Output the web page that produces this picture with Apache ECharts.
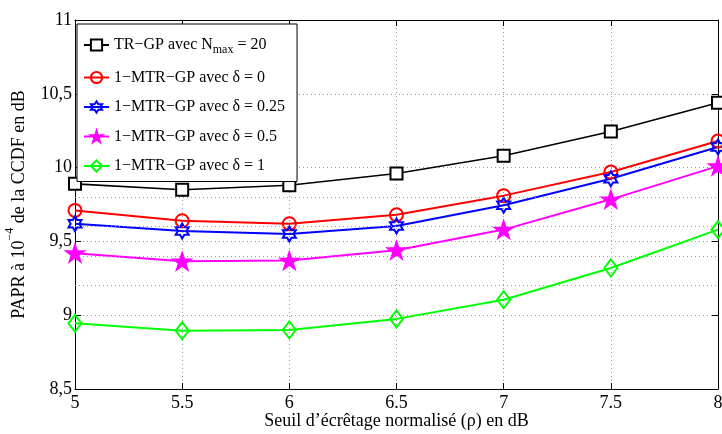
<!DOCTYPE html>
<html>
<head>
<meta charset="utf-8">
<script src="https://cdn.jsdelivr.net/npm/echarts@6/dist/echarts.min.js"></script>
<style>html,body{margin:0;padding:0;background:#fff;}#c{width:722px;height:434px;}</style>
</head>
<body>
<div id="c"></div>
<script>
var xValues = [5, 5.5, 6, 6.5, 7, 7.5, 8];
var xTickLabels = ['5', '5.5', '6', '6.5', '7', '7.5', '8'];
var yTicks = [8.5, 9, 9.5, 10, 10.5, 11];
var yTickLabels = ['8,5', '9', '9,5', '10', '10,5', '11'];
var extraGridValues = [9.2, 9.4, 9.6, 9.8];

var seriesNames = ['TR−GP avec Nmax = 20', '1−MTR−GP avec δ = 0', '1−MTR−GP avec δ = 0.25', '1−MTR−GP avec δ = 0.5', '1−MTR−GP avec δ = 1'];
var trgp    = [9.89, 9.85, 9.88, 9.96, 10.08, 10.245, 10.44];
var delta0  = [9.71, 9.64, 9.62, 9.68, 9.81, 9.97, 10.18];
var delta25 = [9.62, 9.57, 9.55, 9.605, 9.745, 9.925, 10.14];
var delta50 = [9.42, 9.365, 9.37, 9.44, 9.58, 9.785, 10.01];
var delta1  = [8.945, 8.895, 8.9, 8.975, 9.105, 9.32, 9.58];

var FONT = '"Liberation Serif", "Times New Roman", serif';
var hexPath = 'path://M0,-100 L28.9,-50 L86.6,-50 L57.7,0 L86.6,50 L28.9,50 L0,100 L-28.9,50 L-86.6,50 L-57.7,0 L-86.6,-50 L-28.9,-50 Z';
var pentPath = 'path://M0,-100 L22.5,-31 L95.1,-31 L36.3,11.8 L58.8,80.9 L0,38.2 L-58.8,80.9 L-36.3,11.8 L-95.1,-31 L-22.5,-31 Z';

function pairs(ys) { return xValues.map(function (x, i) { return [x, ys[i]]; }); }

var gridLine = { show: true, lineStyle: { color: '#9a9a9a', type: [1, 3], width: 1 } };

function mk(name, ys, color, symbol, size, fill, lw) {
  return {
    name: name, type: 'line', data: pairs(ys),
    symbol: symbol, symbolSize: size, symbolKeepAspect: true,
    showAllSymbol: true,
    lineStyle: { color: color, width: lw },
    itemStyle: { color: fill, borderColor: color, borderWidth: 2 },
    emphasis: { disabled: true },
    z: 3
  };
}

var series = [
  mk(seriesNames[0], trgp, '#000000', 'rect', 12, '#ffffff', 1.6),
  mk(seriesNames[1], delta0, '#ff0000', 'circle', 13, 'rgba(255,255,255,0)', 2),
  mk(seriesNames[2], delta25, '#0000ff', hexPath, 15, 'rgba(255,255,255,0)', 2),
  mk(seriesNames[3], delta50, '#ff00ff', pentPath, 17, '#ff00ff', 2),
  mk(seriesNames[4], delta1, '#00ff00', 'diamond', [13, 17], 'rgba(255,255,255,0)', 2)
];
series[0].markLine = {
  silent: true, symbol: 'none', label: { show: false },
  lineStyle: { color: '#9a9a9a', type: [1, 3], width: 1 },
  data: extraGridValues.map(function (v) { return { yAxis: v }; })
};

var chart = echarts.init(document.getElementById('c'));
chart.setOption({
  animation: false,
  backgroundColor: '#ffffff',
  textStyle: { fontFamily: FONT },
  grid: { left: 75, right: 4, top: 20, bottom: 45, containLabel: false, outerBoundsMode: 'none' },
  legend: {
    orient: 'vertical', left: 77, top: 24,
    backgroundColor: '#ffffff', borderColor: '#000', borderWidth: 1,
    padding: [13, 12, 7.5, 6], itemGap: 13.5, itemWidth: 25, itemHeight: 14,
    data: seriesNames,
    formatter: function (name) {
      if (name === seriesNames[0]) return '{m|TR−GP avec N}{s|max}{m| = 20}';
      return '{m|' + name + '}';
    },
    textStyle: {
      fontFamily: FONT, fontSize: 16, color: '#000',
      rich: {
        m: { fontFamily: FONT, fontSize: 16, color: '#000', lineHeight: 18, verticalAlign: 'middle' },
        s: { fontFamily: FONT, fontSize: 12, color: '#000', lineHeight: 22, verticalAlign: 'bottom' }
      }
    }
  },
  xAxis: [{
    type: 'value', min: 5, max: 8, interval: 0.5,
    name: 'Seuil d’écrêtage normalisé (ρ) en dB', nameLocation: 'middle', nameGap: 23, nameMoveOverlap: false,
    nameTextStyle: { fontFamily: FONT, fontSize: 18, color: '#000' },
    axisLine: { show: true, lineStyle: { color: '#000', width: 1 } },
    axisTick: { show: true, inside: true, length: 6, lineStyle: { color: '#000' } },
    axisLabel: {
      fontFamily: FONT, fontSize: 18, color: '#000', margin: 5,
      formatter: function (v) { return xTickLabels[Math.round((v - 5) / 0.5)]; }
    },
    splitLine: gridLine
  }, {
    type: 'value', min: 5, max: 8, interval: 0.5, position: 'top',
    axisLine: { show: true, lineStyle: { color: '#000', width: 1 } },
    axisTick: { show: true, inside: true, length: 6, lineStyle: { color: '#000' } },
    axisLabel: { show: false }, splitLine: { show: false }
  }],
  yAxis: [{
    type: 'value', min: 8.5, max: 11, interval: 0.5,
    name: '{a|PAPR à 10}{s|−4}{a| de la CCDF en dB}', nameLocation: 'middle', nameGap: 47, nameRotate: 90,
    nameTextStyle: {
      fontFamily: FONT, fontSize: 18, color: '#000',
      rich: {
        a: { fontFamily: FONT, fontSize: 18, color: '#000', lineHeight: 24, verticalAlign: 'bottom' },
        s: { fontFamily: FONT, fontSize: 12, color: '#000', lineHeight: 24, verticalAlign: 'top' }
      }
    },
    axisLine: { show: true, lineStyle: { color: '#000', width: 1 } },
    axisTick: { show: true, inside: true, length: 6, lineStyle: { color: '#000' } },
    axisLabel: {
      fontFamily: FONT, fontSize: 18, color: '#000', margin: 3,
      formatter: function (v) {
        for (var i = 0; i < yTicks.length; i++) if (Math.abs(yTicks[i] - v) < 1e-6) return yTickLabels[i];
        return '';
      }
    },
    splitLine: gridLine
  }, {
    type: 'value', min: 8.5, max: 11, interval: 0.5, position: 'right',
    axisLine: { show: true, lineStyle: { color: '#000', width: 1 } },
    axisTick: { show: true, inside: true, length: 6, lineStyle: { color: '#000' } },
    axisLabel: { show: false }, splitLine: { show: false }
  }],
  series: series
});
</script>
</body>
</html>
